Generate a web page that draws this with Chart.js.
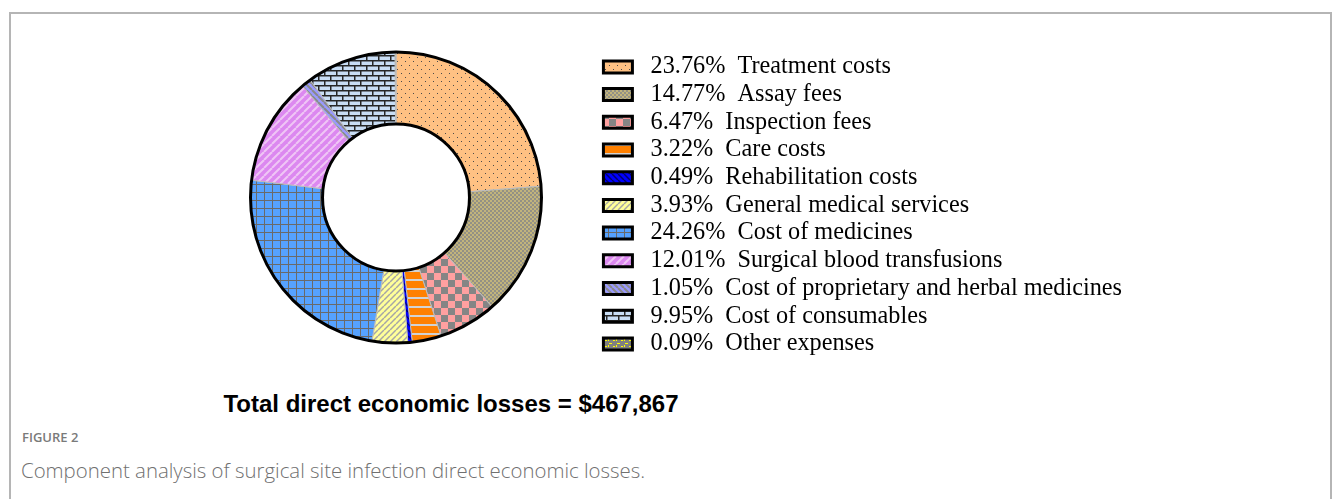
<!DOCTYPE html>
<html>
<head>
<meta charset="utf-8">
<script src="https://cdn.jsdelivr.net/npm/chart.js@4.4.0/dist/chart.umd.min.js"></script>
<style>
  html, body { margin: 0; padding: 0; background: #fff; }
  body { width: 1333px; height: 499px; overflow: hidden; position: relative; }
  #frame { position: absolute; left: 9px; top: 12px; width: 1319px; height: 600px; border: 2px solid #b5b5b5; }
  #chart { position: absolute; left: 0; top: 0; }
  #total { position: absolute; left: 0; top: 390px; width: 902px; text-align: center;
           font: bold 24px 'Liberation Sans', Arial, sans-serif; line-height: 28px; color: #000; }
  #figno { position: absolute; left: 22px; top: 428px; font: 600 13px 'Open Sans', sans-serif; color: #7a7a7a; }
  #caption { position: absolute; left: 21px; top: 456px; font: 300 20.4px 'Open Sans', sans-serif; color: #707070; }
</style>
</head>
<body>
<div id="frame"></div>
<canvas id="chart" width="1132" height="364"></canvas>
<div id="total">Total direct economic losses = $467,867</div>
<div id="figno">FIGURE 2</div>
<div id="caption">Component analysis of surgical site infection direct economic losses.</div>

<script>
// cost components, clockwise from 12 o'clock
const categories = [
  'Treatment costs',
  'Assay fees',
  'Inspection fees',
  'Care costs',
  'Rehabilitation costs',
  'General medical services',
  'Cost of medicines',
  'Surgical blood transfusions',
  'Cost of proprietary and herbal medicines',
  'Cost of consumables',
  'Other expenses'
];
const shares = [23.76, 14.77, 6.47, 3.22, 0.49, 3.93, 24.26, 12.01, 1.05, 9.95, 0.09];

// small tiles used as fill patterns
function makePattern(w, h, bg, draw) {
  const c = document.createElement('canvas');
  c.width = w;
  c.height = h;
  const g = c.getContext('2d');
  g.fillStyle = bg;
  g.fillRect(0, 0, w, h);
  draw(g, w, h);
  return g.createPattern(c, 'repeat');
}

function diag(g, s, color, width, up) {
  g.strokeStyle = color;
  g.lineWidth = width;
  for (let k = -s; k <= s; k += s) {
    g.beginPath();
    if (up) { g.moveTo(k, s); g.lineTo(k + s, 0); }
    else { g.moveTo(k, 0); g.lineTo(k + s, s); }
    g.stroke();
  }
}

const fills = [
  makePattern(8, 8, '#ffc183', g => {
    g.fillStyle = '#4a4a4a';
    g.fillRect(1, 1, 1, 1);
    g.fillRect(5, 5, 1, 1);
  }),
  makePattern(4, 4, '#c2b47c', g => {
    g.fillStyle = '#939185';
    g.fillRect(0, 0, 2, 2);
    g.fillRect(2, 2, 2, 2);
  }),
  makePattern(14, 14, '#ffa0a0', g => {
    g.fillStyle = '#858585';
    g.fillRect(0, 0, 7, 7);
    g.fillRect(7, 7, 7, 7);
  }),
  makePattern(9, 9, '#ff8000', g => {
    g.fillStyle = '#d2d2d2';
    g.fillRect(0, 0, 9, 2);
  }),
  makePattern(6, 6, '#0000ff', (g, s) => diag(g, s, '#000070', 1.5, false)),
  makePattern(6, 6, '#ffff99', (g, s) => diag(g, s, '#a6a6a6', 1.5, true)),
  makePattern(8, 8, '#56a2ff', g => {
    g.fillStyle = '#6a6a6a';
    g.fillRect(0, 0, 8, 1);
    g.fillRect(0, 0, 1, 8);
  }),
  makePattern(8, 8, '#dc88f0', (g, s) => diag(g, s, '#efc6f5', 2, true)),
  makePattern(6, 6, '#9a9aff', (g, s) => diag(g, s, '#8a8a8a', 2, false)),
  makePattern(12, 10, '#c8ddf5', g => {
    g.fillStyle = '#262626';
    g.fillRect(0, 0, 12, 1.5);
    g.fillRect(0, 5, 12, 1.5);
    g.fillRect(0, 0, 1.5, 5);
    g.fillRect(6, 5, 1.5, 5);
  }),
  makePattern(8, 6, '#808080', g => {
    g.fillStyle = '#ffff00';
    g.fillRect(1, 1, 3, 1);
    g.fillRect(5, 4, 2, 1);
    g.fillRect(0, 3, 1, 2);
  })
];

// the legend needs a wide, tall box; the ring sits in a square of its own left of it
const ringCentreX = 396;
const ringCentreY = 197.5;
const ringBoxHalf = 146;
const areaPlugin = {
  id: 'ringArea',
  afterLayout(chart) {
    const a = chart.chartArea;
    a.left = ringCentreX - ringBoxHalf;
    a.right = ringCentreX + ringBoxHalf;
    a.top = ringCentreY - ringBoxHalf;
    a.bottom = ringCentreY + ringBoxHalf;
    a.width = a.right - a.left;
    a.height = a.bottom - a.top;
  }
};

// black outer and inner rings on top of the slices
const ringPlugin = {
  id: 'rings',
  afterDatasetsDraw(chart) {
    const arc = chart.getDatasetMeta(0).data[0];
    const ctx = chart.ctx;
    ctx.save();
    ctx.strokeStyle = '#000';
    ctx.lineWidth = 3;
    ctx.beginPath();
    ctx.arc(arc.x, arc.y, arc.outerRadius, 0, Math.PI * 2);
    ctx.stroke();
    ctx.beginPath();
    ctx.arc(arc.x, arc.y, arc.innerRadius, 0, Math.PI * 2);
    ctx.stroke();
    ctx.restore();
  }
};

const baseLabels = Chart.overrides.doughnut.plugins.legend.labels.generateLabels;

new Chart(document.getElementById('chart').getContext('2d'), {
  type: 'doughnut',
  data: {
    labels: categories,
    datasets: [{
      data: shares,
      backgroundColor: fills,
      borderColor: '#bdbdbd',
      borderWidth: 1,
      hoverOffset: 0
    }]
  },
  options: {
    responsive: false,
    animation: false,
    cutout: '50.5%',
    layout: { padding: { left: 0, top: 51.3, right: 0, bottom: 4 } },
    plugins: {
      tooltip: { enabled: false },
      legend: {
        position: 'right',
        align: 'start',
        labels: {
          color: '#000',
          font: { family: "'Liberation Serif', 'Times New Roman', serif", size: 24.25 },
          boxWidth: 29,
          boxHeight: 12,
          padding: 3.45,
          generateLabels(chart) {
            return baseLabels(chart).map((item, i) => {
              item.text = ' ' + shares[i].toFixed(2) + '%  ' + categories[i];
              item.strokeStyle = '#000';
              item.lineWidth = 3;
              return item;
            });
          }
        }
      }
    }
  },
  plugins: [areaPlugin, ringPlugin]
});
</script>
</body>
</html>
